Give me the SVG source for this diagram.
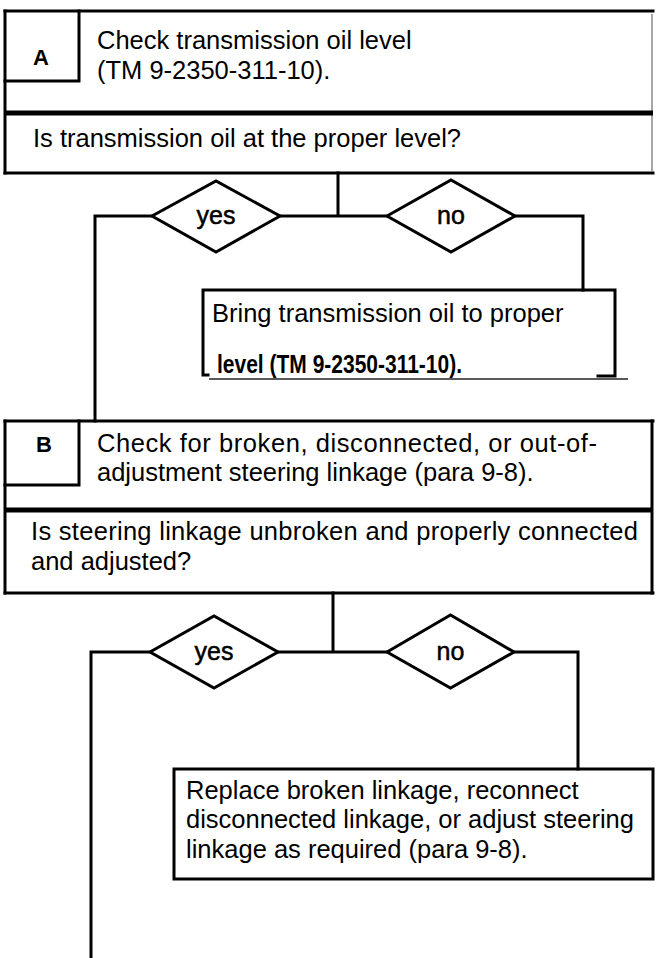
<svg xmlns="http://www.w3.org/2000/svg" width="656" height="958" viewBox="0 0 656 958">
<style>
  .t { font-family: "Liberation Sans", Arial, sans-serif; font-size: 25.5px; fill: #000; }
  .lbl { font-family: "Liberation Sans", Arial, sans-serif; font-size: 22px; font-weight: bold; fill: #000; text-anchor: middle; }
  .dl { font-family: "Liberation Sans", Arial, sans-serif; font-size: 25px; fill: #000; stroke: #000; stroke-width: 0.5; text-anchor: middle; }
  .ln { stroke: #000; stroke-width: 3; fill: none; stroke-linecap: square; }
  .thick { stroke: #000; stroke-width: 5; fill: none; }
  .thin { stroke: #222; stroke-width: 1.5; fill: none; }
  .faint { stroke: #888; stroke-width: 1.5; fill: none; }
  .dia { stroke: #000; stroke-width: 3; fill: #fff; stroke-linejoin: miter; }
</style>
<rect width="656" height="958" fill="#fff"/>

<g id="connectors">
  <path class="ln" d="M338 173 V216 M280 216 H387"/>
  <path class="ln" d="M152 216 H95 V421"/>
  <path class="ln" d="M515 216 H583 V290"/>
  <path class="ln" d="M333 593 V652 M278 652 H387"/>
  <path class="ln" d="M150 652 H91 V958"/>
  <path class="ln" d="M514 652 H578 V769"/>
</g>

<g id="stepA">
  <path class="ln" d="M5 11 H653"/>
  <path class="ln" d="M5 11 V173"/>
  <path class="faint" d="M652 14 V171"/>
  <path class="ln" d="M5 173 H653"/>
  <path class="thick" d="M5 113 H653"/>
  <path class="ln" d="M79 11 V81 H5"/>
  <text class="lbl" x="41" y="65">A</text>
  <text class="t" x="97" y="49">Check transmission oil level</text>
  <text class="t" x="97" y="79">(TM 9-2350-311-10).</text>
  <text class="t" x="33" y="147">Is transmission oil at the proper level?</text>
</g>

<g id="decisionA-yes">
  <polygon class="dia" points="152,216 216,181 280,216 216,252"/>
  <text class="dl" x="216" y="224">yes</text>
</g>
<g id="decisionA-no">
  <polygon class="dia" points="387,216 451,180 515,216 451,252"/>
  <text class="dl" x="451" y="224">no</text>
</g>

<g id="actionA">
  <path class="ln" d="M208 375 H203 V290 H615 V376 H598"/>
  <path class="thin" d="M209 379 H628"/>
  <text class="t" x="212" y="322">Bring transmission oil to proper</text>
  <text class="t" x="217" y="373" font-weight="bold" font-size="24" textLength="245" lengthAdjust="spacingAndGlyphs">level (TM 9-2350-311-10).</text>
</g>

<g id="stepB">
  <path class="ln" d="M5 421 H653"/>
  <path class="ln" d="M5 421 V593"/>
  <path class="ln" d="M652 421 V593"/>
  <path class="ln" d="M5 593 H653"/>
  <path class="thick" d="M5 510 H653"/>
  <path class="ln" d="M79 421 V485 H5"/>
  <text class="lbl" x="44" y="452">B</text>
  <text class="t" x="97" y="452" textLength="500">Check for broken, disconnected, or out-of-</text>
  <text class="t" x="97" y="481">adjustment steering linkage (para 9-8).</text>
  <text class="t" x="31" y="540" textLength="607">Is steering linkage unbroken and properly connected</text>
  <text class="t" x="31" y="570">and adjusted?</text>
</g>

<g id="decisionB-yes">
  <polygon class="dia" points="150,652 214,616 278,652 214,688"/>
  <text class="dl" x="214" y="660">yes</text>
</g>
<g id="decisionB-no">
  <polygon class="dia" points="387,652 450.5,615 514,652 450.5,688"/>
  <text class="dl" x="450.5" y="660">no</text>
</g>

<g id="actionB">
  <rect class="ln" x="174" y="769" width="479" height="110"/>
  <text class="t" x="186" y="799">Replace broken linkage, reconnect</text>
  <text class="t" x="186" y="828">disconnected linkage, or adjust steering</text>
  <text class="t" x="186" y="858">linkage as required (para 9-8).</text>
</g>
</svg>
